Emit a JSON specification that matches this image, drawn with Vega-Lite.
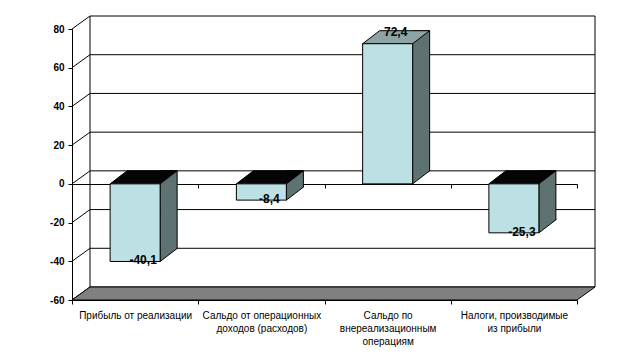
{
  "$schema": "https://vega.github.io/schema/vega-lite/v6.json",
  "width": 505,
  "height": 271,
  "autosize": {"type": "none"},
  "padding": {"left": 72, "top": 29, "right": 65, "bottom": 61},
  "background": "white",
  "config": {
    "view": {"stroke": null},
    "font": "Liberation Sans",
    "locale": {"number": {"decimal": ",", "thousands": "\u00a0", "grouping": [3], "currency": ["", ""], "minus": "-"}}
  },
  "datasets": {
    "bars": [
      {"c": "Прибыль от реализации", "v": -40.1},
      {"c": "Сальдо от операционных\nдоходов (расходов)", "v": -8.4},
      {"c": "Сальдо по\nвнереализационным\nоперациям", "v": 72.4},
      {"c": "Налоги, производимые\nиз прибыли", "v": -25.3}
    ],
    "ticks": [{"t": -60}, {"t": -40}, {"t": -20}, {"t": 0}, {"t": 20}, {"t": 40}, {"t": 60}, {"t": 80}],
    "one": [{"k": 1}]
  },
  "resolve": {"axis": {"x": "independent", "y": "independent"}},
  "layer": [
    {
      "data": {"name": "ticks"},
      "mark": {"type": "rule", "color": "black", "strokeWidth": 1, "xOffset": 18, "x2Offset": 18, "yOffset": -13},
      "encoding": {
        "x": {"datum": "Прибыль от реализации", "bandPosition": 0, "scale": {"domain": ["Прибыль от реализации", "Сальдо от операционных\nдоходов (расходов)", "Сальдо по\nвнереализационным\nоперациям", "Налоги, производимые\nиз прибыли"], "paddingInner": 0, "paddingOuter": 0}, "axis": null},
        "x2": {"datum": "Налоги, производимые\nиз прибыли", "bandPosition": 1},
        "y": {"field": "t", "type": "quantitative", "scale": {"domain": [-60, 80], "nice": false, "zero": false},
              "axis": {"orient": "left", "values": [-60, -40, -20, 0, 20, 40, 60, 80], "domain": true, "domainColor": "black", "ticks": true, "tickColor": "black", "tickSize": 4, "labelFont": "Liberation Sans", "labelFontWeight": "bold", "labelFontSize": 10, "labelColor": "black", "labelPadding": 4, "grid": false, "title": null}}
      }
    },
    {
      "data": {"name": "one"},
      "mark": {"type": "rule", "color": "black", "strokeWidth": 1, "xOffset": 18, "yOffset": -13, "y2Offset": -13},
      "encoding": {
        "x": {"datum": "Прибыль от реализации", "bandPosition": 0, "scale": {"domain": ["Прибыль от реализации", "Сальдо от операционных\nдоходов (расходов)", "Сальдо по\nвнереализационным\nоперациям", "Налоги, производимые\nиз прибыли"], "paddingInner": 0, "paddingOuter": 0}, "axis": null},
        "y": {"datum": 80, "type": "quantitative", "scale": {"domain": [-60, 80], "nice": false, "zero": false}, "axis": null},
        "y2": {"datum": -60}
      }
    },
    {
      "data": {"name": "one"},
      "mark": {"type": "rule", "color": "black", "strokeWidth": 1, "xOffset": 18, "yOffset": -13, "y2Offset": -13},
      "encoding": {
        "x": {"datum": "Налоги, производимые\nиз прибыли", "bandPosition": 1, "scale": {"domain": ["Прибыль от реализации", "Сальдо от операционных\nдоходов (расходов)", "Сальдо по\nвнереализационным\nоперациям", "Налоги, производимые\nиз прибыли"], "paddingInner": 0, "paddingOuter": 0}, "axis": null},
        "y": {"datum": 80, "type": "quantitative", "scale": {"domain": [-60, 80], "nice": false, "zero": false}, "axis": null},
        "y2": {"datum": -60}
      }
    },
    {
      "data": {"name": "ticks"},
      "mark": {"type": "point", "shape": "M0,0L18,-13", "size": 4, "filled": false, "stroke": "black", "strokeWidth": 1, "opacity": 1},
      "encoding": {
        "x": {"datum": "Прибыль от реализации", "bandPosition": 0, "scale": {"domain": ["Прибыль от реализации", "Сальдо от операционных\nдоходов (расходов)", "Сальдо по\nвнереализационным\nоперациям", "Налоги, производимые\nиз прибыли"], "paddingInner": 0, "paddingOuter": 0}, "axis": null},
        "y": {"field": "t", "type": "quantitative", "scale": {"domain": [-60, 80], "nice": false, "zero": false}, "axis": null}
      }
    },
    {
      "data": {"name": "one"},
      "mark": {"type": "point", "shape": "M0,0L505,0L523,-13L18,-13Z", "size": 4, "filled": true, "fill": "#808080", "stroke": "black", "strokeWidth": 1, "opacity": 1},
      "encoding": {
        "x": {"datum": "Прибыль от реализации", "bandPosition": 0, "scale": {"domain": ["Прибыль от реализации", "Сальдо от операционных\nдоходов (расходов)", "Сальдо по\nвнереализационным\nоперациям", "Налоги, производимые\nиз прибыли"], "paddingInner": 0, "paddingOuter": 0}, "axis": null},
        "y": {"datum": -60, "type": "quantitative", "scale": {"domain": [-60, 80], "nice": false, "zero": false}, "axis": null}
      }
    },
    {
      "data": {"name": "bars"},
      "mark": {"type": "bar", "width": 17, "xOffset": 33.5, "yOffset": -13, "y2Offset": -13, "fill": "#5E7272", "stroke": "black", "strokeWidth": 1},
      "encoding": {
        "x": {"field": "c", "type": "nominal", "sort": null, "scale": {"domain": ["Прибыль от реализации", "Сальдо от операционных\nдоходов (расходов)", "Сальдо по\nвнереализационным\nоперациям", "Налоги, производимые\nиз прибыли"], "paddingInner": 0, "paddingOuter": 0},
              "axis": {"orient": "bottom", "offset": -116, "labels": false, "ticks": true, "tickSize": 4, "tickColor": "black", "tickBand": "extent", "domain": true, "domainColor": "black", "grid": false, "title": null}},
        "y": {"field": "v", "type": "quantitative", "scale": {"domain": [-60, 80], "nice": false, "zero": false}, "axis": null}
      }
    },
    {
      "data": {"name": "bars"},
      "transform": [{"filter": "datum.v < 0"}],
      "mark": {"type": "point", "shape": "M25,-14L25,0L42,-13L42,-14", "size": 4, "filled": true, "fill": "#5E7272", "stroke": "black", "strokeWidth": 1, "opacity": 1},
      "encoding": {
        "x": {"field": "c", "type": "nominal", "sort": null, "scale": {"domain": ["Прибыль от реализации", "Сальдо от операционных\nдоходов (расходов)", "Сальдо по\nвнереализационным\nоперациям", "Налоги, производимые\nиз прибыли"], "paddingInner": 0, "paddingOuter": 0}, "axis": null},
        "y": {"field": "v", "type": "quantitative", "scale": {"domain": [-60, 80], "nice": false, "zero": false}, "axis": null}
      }
    },
    {
      "data": {"name": "bars"},
      "transform": [{"filter": "datum.v > 0"}],
      "mark": {"type": "point", "shape": "M25,-14L25,0L42,-13L42,-14", "size": 4, "filled": true, "fill": "#5E7272", "stroke": "black", "strokeWidth": 1, "opacity": 1},
      "encoding": {
        "x": {"field": "c", "type": "nominal", "sort": null, "scale": {"domain": ["Прибыль от реализации", "Сальдо от операционных\nдоходов (расходов)", "Сальдо по\nвнереализационным\nоперациям", "Налоги, производимые\nиз прибыли"], "paddingInner": 0, "paddingOuter": 0}, "axis": null},
        "y": {"datum": 0, "type": "quantitative", "scale": {"domain": [-60, 80], "nice": false, "zero": false}, "axis": null}
      }
    },
    {
      "data": {"name": "bars"},
      "transform": [{"filter": "datum.v < 0"}],
      "mark": {"type": "point", "shape": "M-25,0L25,0L42,-13L-8,-13Z", "size": 4, "filled": true, "fill": "#050505", "stroke": "black", "strokeWidth": 1, "opacity": 1},
      "encoding": {
        "x": {"field": "c", "type": "nominal", "sort": null, "scale": {"domain": ["Прибыль от реализации", "Сальдо от операционных\nдоходов (расходов)", "Сальдо по\nвнереализационным\nоперациям", "Налоги, производимые\nиз прибыли"], "paddingInner": 0, "paddingOuter": 0}, "axis": null},
        "y": {"datum": 0, "type": "quantitative", "scale": {"domain": [-60, 80], "nice": false, "zero": false}, "axis": null}
      }
    },
    {
      "data": {"name": "bars"},
      "transform": [{"filter": "datum.v > 0"}],
      "mark": {"type": "point", "shape": "M-25,0L25,0L42,-13L-8,-13Z", "size": 4, "filled": true, "fill": "#8DA3A4", "stroke": "black", "strokeWidth": 1, "opacity": 1},
      "encoding": {
        "x": {"field": "c", "type": "nominal", "sort": null, "scale": {"domain": ["Прибыль от реализации", "Сальдо от операционных\nдоходов (расходов)", "Сальдо по\nвнереализационным\nоперациям", "Налоги, производимые\nиз прибыли"], "paddingInner": 0, "paddingOuter": 0}, "axis": null},
        "y": {"field": "v", "type": "quantitative", "scale": {"domain": [-60, 80], "nice": false, "zero": false}, "axis": null}
      }
    },
    {
      "data": {"name": "bars"},
      "mark": {"type": "bar", "width": 50, "fill": "#BCE0E4", "stroke": "black", "strokeWidth": 1},
      "encoding": {
        "x": {"field": "c", "type": "nominal", "sort": null, "scale": {"domain": ["Прибыль от реализации", "Сальдо от операционных\nдоходов (расходов)", "Сальдо по\nвнереализационным\nоперациям", "Налоги, производимые\nиз прибыли"], "paddingInner": 0, "paddingOuter": 0},
              "axis": {"orient": "bottom", "labels": true, "labelExpr": "split(datum.label, '\\n')", "labelFont": "Liberation Sans", "labelFontSize": 10, "labelColor": "black", "labelLineHeight": 13, "labelPadding": 6, "labelAngle": 0, "labelLimit": 0, "ticks": true, "tickSize": 4, "tickColor": "black", "tickBand": "extent", "domain": true, "domainColor": "black", "grid": false, "title": null}},
        "y": {"field": "v", "type": "quantitative", "scale": {"domain": [-60, 80], "nice": false, "zero": false}, "axis": null}
      }
    },
    {
      "data": {"name": "bars"},
      "transform": [{"filter": "datum.v < 0"}],
      "mark": {"type": "text", "font": "Liberation Sans", "fontSize": 12, "fontWeight": "bold", "color": "black", "baseline": "middle", "align": "center", "xOffset": 8, "dy": -1},
      "encoding": {
        "x": {"field": "c", "type": "nominal", "sort": null, "scale": {"domain": ["Прибыль от реализации", "Сальдо от операционных\nдоходов (расходов)", "Сальдо по\nвнереализационным\nоперациям", "Налоги, производимые\nиз прибыли"], "paddingInner": 0, "paddingOuter": 0}, "axis": null},
        "y": {"field": "v", "type": "quantitative", "scale": {"domain": [-60, 80], "nice": false, "zero": false}, "axis": null},
        "text": {"field": "v", "type": "quantitative", "format": ".1f"}
      }
    },
    {
      "data": {"name": "bars"},
      "transform": [{"filter": "datum.v > 0"}],
      "mark": {"type": "text", "font": "Liberation Sans", "fontSize": 12, "fontWeight": "bold", "color": "black", "baseline": "middle", "align": "center", "xOffset": 8, "dy": -12},
      "encoding": {
        "x": {"field": "c", "type": "nominal", "sort": null, "scale": {"domain": ["Прибыль от реализации", "Сальдо от операционных\nдоходов (расходов)", "Сальдо по\nвнереализационным\nоперациям", "Налоги, производимые\nиз прибыли"], "paddingInner": 0, "paddingOuter": 0}, "axis": null},
        "y": {"field": "v", "type": "quantitative", "scale": {"domain": [-60, 80], "nice": false, "zero": false}, "axis": null},
        "text": {"field": "v", "type": "quantitative", "format": ".1f"}
      }
    }
  ]
}
